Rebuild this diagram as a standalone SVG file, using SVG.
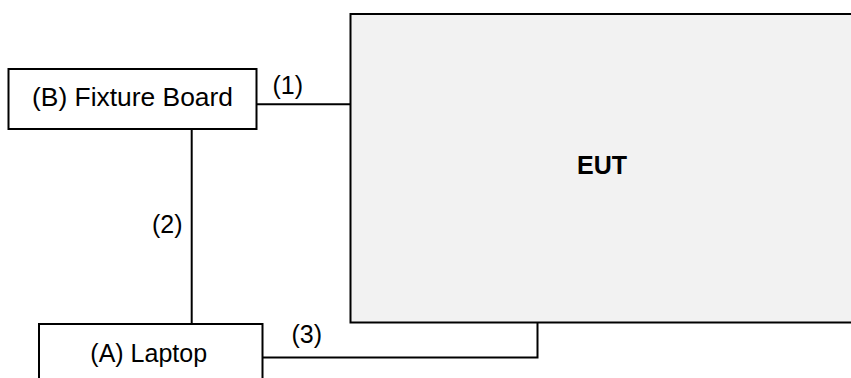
<svg xmlns="http://www.w3.org/2000/svg" width="851" height="378" viewBox="0 0 851 378">
<style>
.box{fill:#fff;stroke:#000;stroke-width:2}
.eut{fill:#f2f2f2;stroke:#000;stroke-width:2}
.t{font-family:"Liberation Sans",Arial,sans-serif;font-size:25px;fill:#000}
.c{fill:none;stroke:#000;stroke-width:2}
</style>
<rect width="851" height="378" fill="#fff"/>
<g id="eut">
<rect class="eut" x="350.5" y="14" width="510" height="308.5"/>
<text class="t" x="602" y="174" text-anchor="middle" font-weight="bold" font-size="24">EUT</text>
</g>
<g id="fixture">
<rect class="box" x="8.5" y="69" width="248" height="60"/>
<text class="t" x="132.5" y="106" text-anchor="middle" textLength="201" lengthAdjust="spacingAndGlyphs">(B) Fixture Board</text>
</g>
<g id="laptop">
<rect class="box" x="39" y="324" width="223.5" height="70"/>
<text class="t" x="148.7" y="361.7" text-anchor="middle">(A) Laptop</text>
</g>
<g id="connectors">
<path class="c" d="M256.5 104.3H350.5"/>
<path class="c" d="M191.7 129V324"/>
<path class="c" d="M262.5 357.5H537.5V322.5"/>
</g>
<g id="labels">
<text class="t" x="287.8" y="94" text-anchor="middle">(1)</text>
<text class="t" x="167.2" y="233.3" text-anchor="middle">(2)</text>
<text class="t" x="306.8" y="343" text-anchor="middle">(3)</text>
</g>
</svg>
